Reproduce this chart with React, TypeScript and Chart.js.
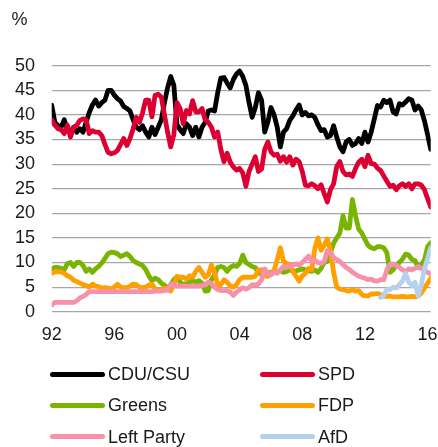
import React, { useEffect, useRef } from 'react';
import { Chart, registerables } from 'chart.js';

Chart.register(...registerables);

// Decimal years, one point every 0.2 year
const dates = [
  1992.0, 1992.2, 1992.4, 1992.6, 1992.8, 1993.0, 1993.2, 1993.4, 1993.6, 1993.8,
  1994.0, 1994.2, 1994.4, 1994.6, 1994.8, 1995.0, 1995.2, 1995.4, 1995.6, 1995.8,
  1996.0, 1996.2, 1996.4, 1996.6, 1996.8, 1997.0, 1997.2, 1997.4, 1997.6, 1997.8,
  1998.0, 1998.2, 1998.4, 1998.6, 1998.8, 1999.0, 1999.2, 1999.4, 1999.6, 1999.8,
  2000.0, 2000.2, 2000.4, 2000.6, 2000.8, 2001.0, 2001.2, 2001.4, 2001.6, 2001.8,
  2002.0, 2002.2, 2002.4, 2002.6, 2002.8, 2003.0, 2003.2, 2003.4, 2003.6, 2003.8,
  2004.0, 2004.2, 2004.4, 2004.6, 2004.8, 2005.0, 2005.2, 2005.4, 2005.6, 2005.8,
  2006.0, 2006.2, 2006.4, 2006.6, 2006.8, 2007.0, 2007.2, 2007.4, 2007.6, 2007.8,
  2008.0, 2008.2, 2008.4, 2008.6, 2008.8, 2009.0, 2009.2, 2009.4, 2009.6, 2009.8,
  2010.0, 2010.2, 2010.4, 2010.6, 2010.8, 2011.0, 2011.2, 2011.4, 2011.6, 2011.8,
  2012.0, 2012.2, 2012.4, 2012.6, 2012.8, 2013.0, 2013.2, 2013.4, 2013.6, 2013.8,
  2014.0, 2014.2, 2014.4, 2014.6, 2014.8, 2015.0, 2015.2, 2015.4, 2015.6, 2015.8,
  2016.0, 2016.2,
];

const cduCsu = [
  42, 38.5, 37.8, 37.5, 39, 37, 36.5, 37.5, 36.5, 37.2,
  36.5, 38.5, 40.5, 42, 43, 41.8, 42.5, 43, 45, 45,
  44, 43.3, 42.8, 41.7, 41.3, 40.8, 39, 37.5, 37, 37.8,
  36.5, 35.5, 37.5, 36, 37.5, 39, 42.5, 45.5, 47.8, 46,
  38, 37, 36.2, 38.2, 37.5, 35.8, 37.5, 35.5, 37.5, 38.5,
  40.8, 41, 40.8, 44.5, 47.5, 47.6, 46.5, 45.5, 47.2, 48.3,
  48.9, 47.8, 46, 42.5, 39.5, 41.5, 44.5, 43, 36.5, 38.5,
  41.5, 40, 37.5, 33.5, 36.5, 37.2, 38.9, 39.8, 41, 42,
  40, 40.5, 39.8, 40, 39.5, 38, 36.8, 37, 35.5, 35.8,
  37.8, 35.5, 33.5, 32.5, 34.5, 35, 33.8, 34.2, 35.2, 34.2,
  36.5, 34.5, 36.5, 39.2, 41.9, 41.6, 43, 42.5, 43, 40.6,
  40.2, 42.3, 42, 42.6, 43.3, 43, 41, 41.8, 41, 38.8,
  36, 33,
];

const spd = [
  39, 37.9, 37.2, 37, 36.2, 37.9, 35.5, 37.5, 37.9, 38.9,
  39.2, 39, 36.2, 36.8, 36.5, 36.5, 35.8, 34, 32.4, 32.1,
  32.3, 32.8, 34, 35.2, 33.8, 35.2, 37.2, 39.5, 38.5, 40.4,
  43, 43, 39.6, 44, 44.2, 43.6, 40, 36.5, 33.5, 36,
  42.5, 41.3, 38.2, 40.9, 40.2, 42.9, 40.6, 40.6, 41.3, 39,
  38.5, 37.5, 35.5, 36.5, 33, 30.5, 32.2, 30.4, 29.4, 28.8,
  29.1, 28.2, 25.5, 28.5, 30, 31.5, 28.5, 29, 33, 34.5,
  32.5, 31.8, 32, 30.6, 31.5, 30.4, 31.5, 29.8, 31, 30.5,
  28.5, 25.7, 25.6, 26, 25.6, 25, 25.8, 24, 22.3, 24.8,
  26, 29.5, 30.5, 28.5, 27.8, 28, 27.5, 29.1, 30.4, 31,
  29.5, 31.8, 30.1, 30, 29.2, 28.7, 27.6, 26.5, 25.5, 25.7,
  24.8, 25.6, 26, 25.5, 26, 25, 26, 26, 25.7, 24.8,
  23, 21.3,
];

const greens = [
  8.7, 9, 9, 8.8, 8.5, 9.8, 10, 9.2, 10, 10,
  9.4, 8.2, 8.7, 8, 8.7, 9.2, 9.9, 10.8, 11.8, 12.1,
  12, 11.8, 11.2, 11.5, 11.8, 11.2, 10.4, 10, 9.7, 9.4,
  8.6, 7.3, 6.3, 6.8, 6.5, 5.8, 5.4, 4.8, 5.5, 6.5,
  7, 6, 5.5, 5.7, 6, 6.3, 6, 6.3, 5.8, 4.2,
  4.3, 6.5, 7.5, 9, 9.2, 9, 8.2, 9, 9.4, 9.2,
  9.8, 11.5, 10, 9.6, 9.2, 9, 7.8, 7.8, 8, 7.8,
  8, 8.2, 8, 8.3, 8, 8.2, 8.5, 8.2, 8.3, 8.5,
  8.7, 8.5, 8.3, 8.2, 8.5, 8, 8.8, 10, 10.2, 12,
  13.9, 15, 16, 19.5, 17, 17, 22.8, 19.5, 16.8, 16,
  14.7, 13.5, 13, 12.8, 13.2, 13.2, 13, 12, 8, 8.5,
  9.5, 10, 10.7, 11.7, 11.5, 10.6, 10.4, 9, 9.6, 10.5,
  13.2, 14,
];

const fdp = [
  7.8, 8.1, 8.1, 8.1, 7.8, 7.3, 7, 6.4, 6.1, 5.8,
  5.5, 5.3, 5, 5.6, 5.2, 5.1, 4.8, 4.9, 4.8, 4.6,
  5, 5.6, 5, 4.9, 4.9, 5.2, 5.6, 5.5, 5, 4.9,
  5, 5.4, 5.6, 4.6, 4.5, 4.6, 4.8, 4.5, 4.2, 5.5,
  7.2, 7, 7, 6.6, 7.3, 7, 8.2, 9, 8, 7,
  7.5, 9.5, 8, 5.5, 5.5, 6.5, 6, 5.2, 5, 5.5,
  6.5, 7, 7, 7, 7, 7.2, 8.5, 8.5, 7.3, 7.2,
  7.7, 8.4, 10.5, 13, 10.3, 9.8, 9.6, 8.2, 7.2, 6.2,
  7.3, 7.8, 8.8, 8.5, 12.8, 15, 12.5, 13.5, 14.8, 12.5,
  8, 5, 4.6, 4.5, 4.3, 4.2, 4.5, 4.2, 4.3, 3.5,
  3.2, 3.2, 3.6, 3.6, 3.7, 3.5, 3.1, 3.1, 3.2, 3,
  3, 3, 3.1, 3, 3, 3.1, 3, 3.2, 3.8, 4.8,
  5.8, 6.8,
];

const leftParty = [
  1.3, 1.9, 1.9, 1.9, 1.9, 1.9, 1.9, 1.9, 2.2, 2.8,
  3.1, 3.5, 4.1, 4.1, 4.1, 4.1, 4.1, 4.1, 4.1, 4.1,
  4.1, 4.1, 4.1, 4.1, 4.1, 4.1, 4.1, 4.1, 4.1, 4.1,
  4.1, 4.1, 4.1, 4.2, 4.2, 4.2, 4.3, 4.4, 5.6, 5.4,
  5.2, 5.2, 5.2, 5.2, 5.2, 5.2, 5.2, 5.2, 5.3, 5.5,
  6, 5.7, 5, 4.5, 4.3, 4.3, 4.3, 4, 3.3, 4,
  4.4, 4.9, 4.6, 4.9, 5.5, 5.4, 5.6, 6.5, 8.7, 7.8,
  7.5, 8, 7.8, 8.5, 9.2, 9, 9.3, 9.4, 9.7, 9.5,
  10, 10.6, 11.3, 10.2, 10.5, 10, 9.8, 10.2, 12.4, 12,
  11, 10.6, 10.2, 9.6, 9, 8.6, 8, 7.6, 7.2, 7,
  6.8, 6.5, 6.6, 6.3, 6.2, 6.5, 6.5, 8.5, 9.6, 9.7,
  9.4, 9, 8.5, 8.2, 8.7, 8.5, 8.8, 9.2, 8.8, 8.4,
  8, 7.7,
];

const afdDates = [
  2013.0, 2013.2, 2013.4, 2013.6, 2013.8, 2014.0, 2014.2, 2014.4, 2014.6, 2014.8,
  2015.0, 2015.2, 2015.4, 2015.6, 2015.8, 2016.0, 2016.2,
];
const afd = [
  2.9, 3.3, 4.5, 4.5, 5, 4.8, 5.5, 6.2, 7.8, 6,
  5.3, 6, 3.2, 5.5, 8.7, 10.8, 13,
];

const seriesNames = ['CDU/CSU', 'SPD', 'Greens', 'FDP', 'Left Party', 'AfD'];
const seriesColors = ['#000000', '#dc0032', '#78b400', '#ffa000', '#f790a8', '#b4d2ee'];

const yTicks = [0, 5, 10, 15, 20, 25, 30, 35, 40, 45, 50];
const xTickYears = [1992, 1996, 2000, 2004, 2008, 2012, 2016];

const FONT = '"Liberation Sans", Arial, Helvetica, sans-serif';
const TEXT = '#1a1a1a';

export default function App() {
  const ref = useRef<HTMLCanvasElement>(null);

  useEffect(() => {
    const canvas = ref.current;
    if (!canvas) return;
    const toPts = (xs: number[], ys: number[]) => xs.map((x, i) => ({ x, y: ys[i] }));
    const values = [cduCsu, spd, greens, fdp, leftParty];
    const datasets = seriesNames.map((name, i) => ({
      label: name,
      data: i < 5 ? toPts(dates, values[i]) : toPts(afdDates, afd),
      borderColor: seriesColors[i],
      backgroundColor: seriesColors[i],
      borderWidth: 4.8,
      pointRadius: 0,
      pointHoverRadius: 0,
      tension: 0,
      fill: false,
      borderJoinStyle: 'round' as const,
      borderCapStyle: 'round' as const,
      order: seriesNames.length - i,
    }));

    const chart = new Chart(canvas, {
      type: 'line',
      data: { datasets },
      options: {
        responsive: false,
        animation: false,
        layout: { padding: { left: 0, right: 7.3, top: 65.7, bottom: 95.3 } },
        plugins: { legend: { display: false }, tooltip: { enabled: false }, title: { display: false } },
        scales: {
          x: {
            type: 'linear',
            min: 1992,
            max: 2016.2,
            grid: { display: false, drawTicks: false },
            border: { display: false },
            afterBuildTicks: (s: any) => {
              s.ticks = xTickYears.map((v) => ({ value: v }));
            },
            ticks: {
              includeBounds: false,
              autoSkip: false,
              maxRotation: 0,
              padding: 12.5,
              color: TEXT,
              font: { family: FONT, size: 18 },
              callback: (v: any) => String(Number(v) % 100).padStart(2, '0'),
            },
            afterFit: (s: any) => {
              s.height = 40;
              s.paddingLeft = 0;
              s.paddingRight = 0;
            },
          },
          y: {
            type: 'linear',
            min: 0,
            max: 50,
            afterBuildTicks: (s: any) => {
              s.ticks = yTicks.map((v) => ({ value: v }));
            },
            grid: { color: '#a6a6a6', lineWidth: 1.2, drawTicks: false },
            border: { display: false },
            ticks: {
              padding: 16.7,
              color: TEXT,
              font: { family: FONT, size: 18 },
            },
            afterFit: (s: any) => {
              s.width = 51.7;
              s.paddingTop = 0;
              s.paddingBottom = 0;
            },
          },
        },
      },
    });
    return () => chart.destroy();
  }, []);

  const legendRows = [374, 405, 436.7];
  const legendCols = [49.5, 259.5];

  return (
    <div style={{ position: 'absolute', left: 0, top: 0, width: 438, height: 447, background: '#fff', fontFamily: FONT }}>
      <canvas ref={ref} width={438} height={447} style={{ position: 'absolute', left: 0, top: 0, width: 438, height: 447 }} />
      <div style={{ position: 'absolute', left: 11.5, top: 9, fontSize: 18, lineHeight: '20px', color: TEXT }}>%</div>
      {seriesNames.map((name, i) => {
        const row = Math.floor(i / 2);
        const col = i % 2;
        const cy = legendRows[row];
        const lx = legendCols[col];
        return (
          <React.Fragment key={name}>
            <div
              style={{
                position: 'absolute',
                left: lx,
                top: cy - 2.5,
                width: 55,
                height: 5,
                borderRadius: 2.5,
                background: seriesColors[i],
              }}
            />
            <div
              style={{
                position: 'absolute',
                left: lx + 58.5,
                top: cy - 9.8,
                fontSize: 18,
                lineHeight: '20px',
                color: TEXT,
                whiteSpace: 'nowrap',
              }}
            >
              {name}
            </div>
          </React.Fragment>
        );
      })}
    </div>
  );
}
